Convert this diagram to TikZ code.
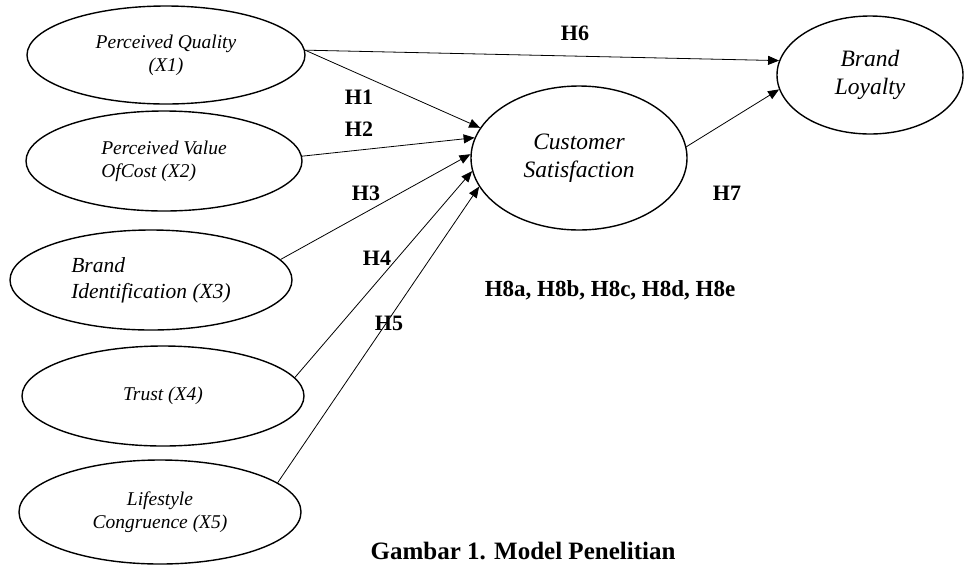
\documentclass[tikz,border=0pt]{standalone}
\usepackage{fontspec}
\setmainfont{Liberation Serif}
\usetikzlibrary{shapes.geometric,arrows.meta}
\begin{document}
\begin{tikzpicture}[x=1pt,y=-1pt,
  var/.style={ellipse,draw,line width=1.4pt,inner sep=0pt,align=center,
    font=\itshape\fontsize{19.5}{23}\selectfont},
  bigvar/.style={var,font=\itshape\fontsize{23.5}{28.5}\selectfont},
  conn/.style={-{Triangle[length=11pt,width=9pt]},line width=0.8pt},
  hlab/.style={inner sep=0pt,font=\bfseries\fontsize{22}{26}\selectfont}]
\path[use as bounding box] (0,0) rectangle (972,566);
% latent variables
\node[var,minimum width=278pt,minimum height=98pt] (x1) at (166,55) {Perceived Quality\\(X1)};
\node[var,align=left,minimum width=276pt,minimum height=100pt] (x2) at (164,161) {Perceived Value\\OfCost (X2)};
\node[var,align=left,minimum width=282pt,minimum height=100pt,font=\itshape\fontsize{21.5}{26}\selectfont] (x3) at (151,280) {Brand\\Identification (X3)};
\node[var,minimum width=282pt,minimum height=100pt] (x4) at (163,396) {Trust (X4)};
\node[var,minimum width=282pt,minimum height=104pt] (x5) at (160,512) {Lifestyle\\Congruence (X5)};
\node[bigvar,minimum width=216pt,minimum height=144pt] (cs) at (579,158) {Customer\\Satisfaction};
\node[bigvar,minimum width=186pt,minimum height=118pt] (bl) at (870,75) {Brand\\Loyalty};
% connectors
\draw[conn] (x1.2) -- (bl.171);
\draw[conn] (x1.2) -- (cs.163);
\draw[conn] (x2.2) -- (cs.169);
\draw[conn] (x3.9) -- (cs.178);
\draw[conn] (x4.8) -- (cs.187);
\draw[conn] (x5.14) -- (cs.196);
\draw[conn] (cs.6) -- (bl.189);
% labels
\node[hlab] (h6) at (575,33) {H6};
\node[hlab] (h1) at (359,97) {H1};
\node[hlab] (h2) at (359,129) {H2};
\node[hlab] (h3) at (366,193) {H3};
\node[hlab] (h4) at (377,258) {H4};
\node[hlab] (h5) at (389,323) {H5};
\node[hlab] (h7) at (727,193) {H7};
\node[hlab,font=\bfseries\fontsize{23}{27}\selectfont] (h8) at (610,290) {H8a, H8b, H8c, H8d, H8e};
\node[inner sep=0pt,font=\bfseries\fontsize{25}{30}\selectfont] (cap) at (523,551) {Gambar 1. Model Penelitian};
\end{tikzpicture}
\end{document}
